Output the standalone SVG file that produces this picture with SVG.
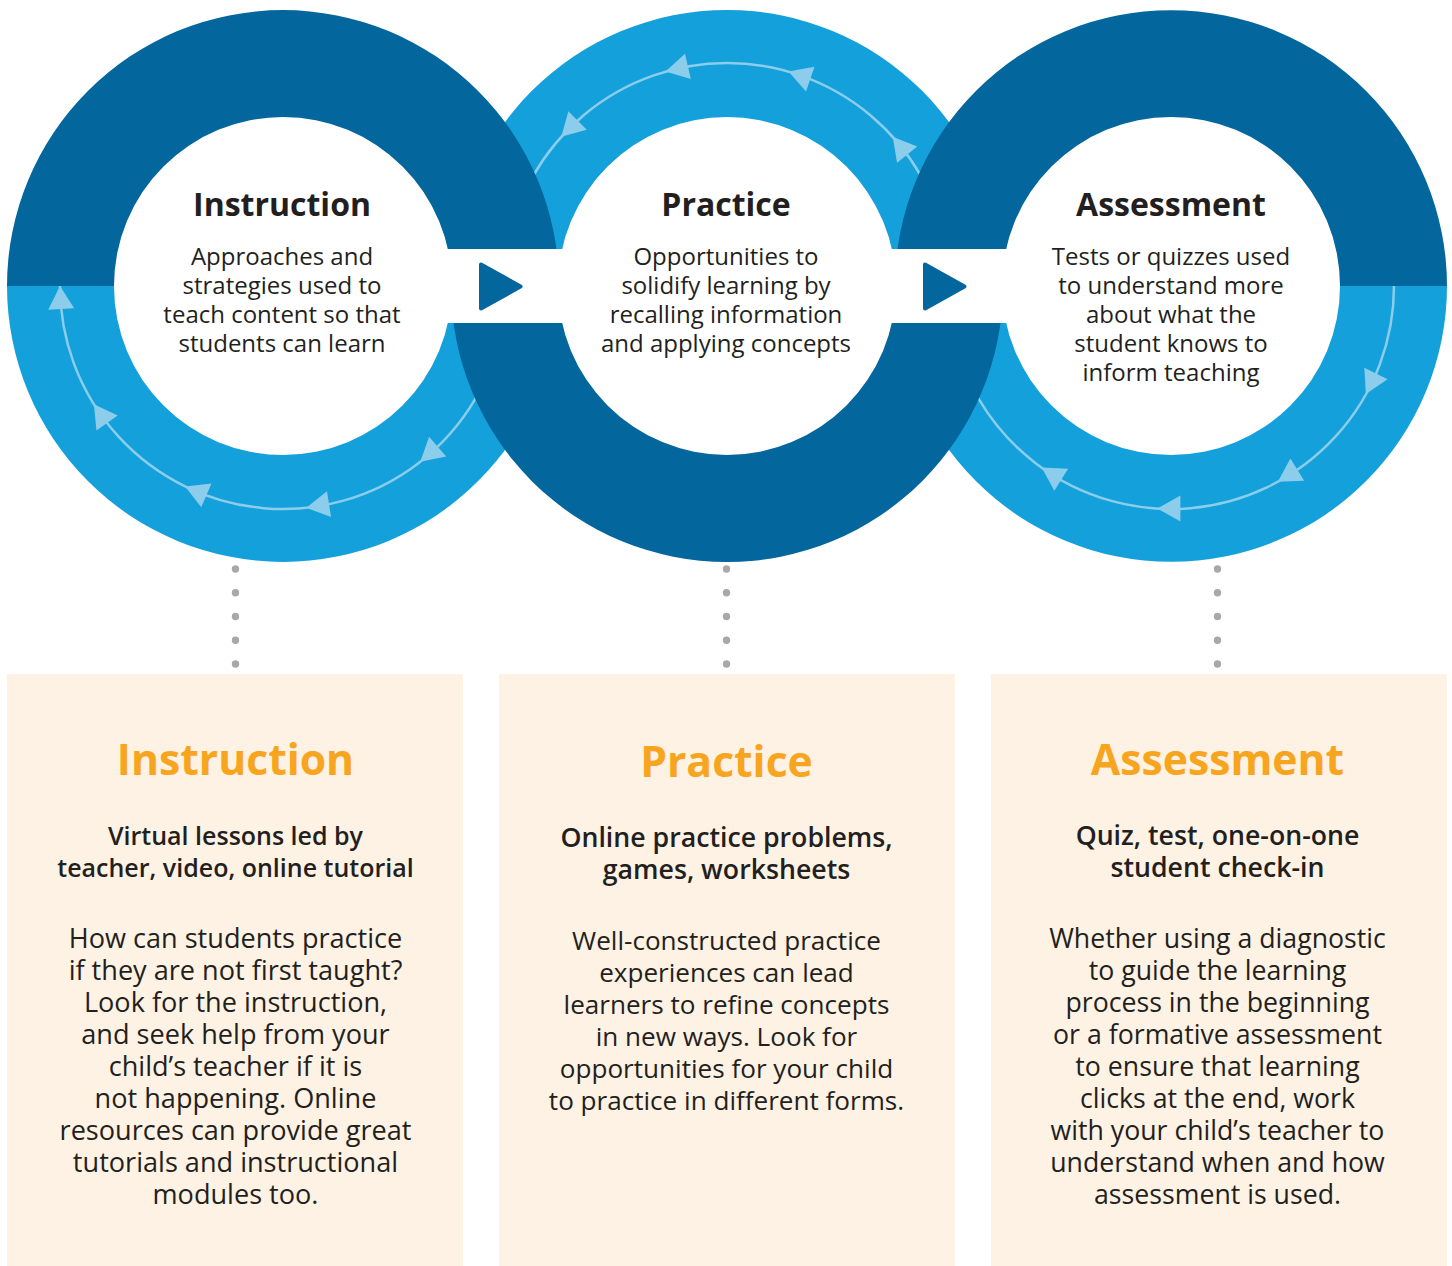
<svg xmlns="http://www.w3.org/2000/svg" xmlns:xlink="http://www.w3.org/1999/xlink" width="1452" height="1266" viewBox="0 0 1452 1266">
  <style>
    .dark { fill: #03679D; }
    .light { fill: #14A0DA; }
    .arc { fill: none; stroke: #8BCDEB; stroke-width: 2.5; }
    .ah { fill: #8BCDEB; }
    .tri { fill: #03679D; stroke: #03679D; stroke-width: 4; stroke-linejoin: round; }
    .dots { stroke: #A8A8AB; stroke-width: 7.4; stroke-linecap: round; stroke-dasharray: 0 23.75; fill: none; }
    .box { fill: #FDF2E3; }
    text { font-family: "Open Sans", "Liberation Sans", sans-serif; text-anchor: middle; fill: #231F20; }
    .ct { font-size: 32px; font-weight: 700; }
    .cb { font-size: 24px; }
    .bt { font-size: 42.7px; font-weight: 700; fill: #F7A51E; }
    .bs { font-size: 26.7px; font-weight: 600; }
    .bs1 { font-size: 25px; }
    .bb { font-size: 26.7px; }
    .bb1 { font-size: 27.1px; }
    .bb2 { font-size: 26.1px; }
  </style>
  <defs>
    <polygon id="ah" class="ah" points="0,0 -23,-13 -23,13"/>
  </defs>

  <g id="rings">
    <!-- light halves -->
    <path id="ring-instruction-light" class="light" d="M559,286 A276,276 0 0 1 7,286 L114,286 A169,169 0 0 0 452,286 Z"/>
    <path id="ring-practice-light" class="light" d="M451,286 A276,276 0 0 1 1003,286 L896,286 A169,169 0 0 0 558,286 Z"/>
    <path id="ring-assessment-light" class="light" d="M1447,286 A276,276 0 0 1 895,286 L1002,286 A169,169 0 0 0 1340,286 Z"/>
    <!-- cycle arrows -->
    <g id="cycle-arrows">
      <path class="arc" d="M502.61,324.72 A223,223 0 0 1 60,286"/>
      <use xlink:href="#ah" href="#ah" transform="translate(420.3,461.7) rotate(139)"/>
      <use xlink:href="#ah" href="#ah" transform="translate(306.3,507.8) rotate(171)"/>
      <use xlink:href="#ah" href="#ah" transform="translate(185.2,486.4) rotate(203)"/>
      <use xlink:href="#ah" href="#ah" transform="translate(93.9,404.2) rotate(235)"/>
      <use xlink:href="#ah" href="#ah" transform="translate(60,286) rotate(267)"/>

      <path class="arc" d="M946.61,247.28 A223,223 0 0 0 507.39,247.28"/>
      <use xlink:href="#ah" href="#ah" transform="translate(892.7,136.8) rotate(231)"/>
      <use xlink:href="#ah" href="#ah" transform="translate(788.5,71.6) rotate(199)"/>
      <use xlink:href="#ah" href="#ah" transform="translate(665.5,71.6) rotate(167)"/>
      <use xlink:href="#ah" href="#ah" transform="translate(561.3,136.8) rotate(135)"/>

      <path class="arc" d="M1394,286 A223,223 0 0 1 951.39,324.72"/>
      <use xlink:href="#ah" href="#ah" transform="translate(1365.9,394.1) rotate(116)"/>
      <use xlink:href="#ah" href="#ah" transform="translate(1277.8,481.8) rotate(148)"/>
      <use xlink:href="#ah" href="#ah" transform="translate(1157.4,508.6) rotate(180)"/>
      <use xlink:href="#ah" href="#ah" transform="translate(1041.7,467.6) rotate(212)"/>
    </g>
    <!-- dark halves -->
    <path id="ring-instruction-dark" class="dark" d="M7,286 A276,276 0 0 1 559,286 L452,286 A169,169 0 0 0 114,286 Z"/>
    <path id="ring-practice-dark" class="dark" d="M1003,286 A276,276 0 0 1 451,286 L558,286 A169,169 0 0 0 896,286 Z"/>
    <path id="ring-assessment-dark" class="dark" d="M895,286 A276,276 0 0 1 1447,286 L1340,286 A169,169 0 0 0 1002,286 Z"/>
    <!-- white band linking the circles -->
    <rect x="283" y="249" width="888" height="74" fill="#FFFFFF"/>
  </g>

  <g id="connectors">
    <polygon class="tri" points="481,264.5 481,308.5 520.5,286.5"/>
    <polygon class="tri" points="925,264.5 925,308.5 964.5,286.5"/>
    <line class="dots" x1="235.5" y1="569" x2="235.5" y2="665"/>
    <line class="dots" x1="726.5" y1="569" x2="726.5" y2="665"/>
    <line class="dots" x1="1217.5" y1="569" x2="1217.5" y2="665"/>
  </g>

  <g id="node-instruction">
    <text class="ct" x="282" y="216">Instruction</text>
    <text class="cb" x="282" y="265">Approaches and</text>
    <text class="cb" x="282" y="294">strategies used to</text>
    <text class="cb" x="282" y="323">teach content so that</text>
    <text class="cb" x="282" y="352">students can learn</text>
  </g>
  <g id="node-practice">
    <text class="ct" x="726" y="216">Practice</text>
    <text class="cb" x="726" y="265">Opportunities to</text>
    <text class="cb" x="726" y="294">solidify learning by</text>
    <text class="cb" x="726" y="323">recalling information</text>
    <text class="cb" x="726" y="352">and applying concepts</text>
  </g>
  <g id="node-assessment">
    <text class="ct" x="1171" y="216">Assessment</text>
    <text class="cb" x="1171" y="265">Tests or quizzes used</text>
    <text class="cb" x="1171" y="294">to understand more</text>
    <text class="cb" x="1171" y="323">about what the</text>
    <text class="cb" x="1171" y="352">student knows to</text>
    <text class="cb" x="1171" y="381">inform teaching</text>
  </g>

  <g id="box-instruction">
    <rect class="box" x="7" y="674" width="456" height="592"/>
    <text class="bt" x="235.5" y="775">Instruction</text>
    <text class="bs bs1" x="235.5" y="845">Virtual lessons led by</text>
    <text class="bs bs1" x="235.5" y="877">teacher, video, online tutorial</text>
    <text class="bb1" x="235.5" y="948">How can students practice</text>
    <text class="bb1" x="235.5" y="980">if they are not first taught?</text>
    <text class="bb1" x="235.5" y="1012">Look for the instruction,</text>
    <text class="bb1" x="235.5" y="1044">and seek help from your</text>
    <text class="bb1" x="235.5" y="1076">child’s teacher if it is</text>
    <text class="bb1" x="235.5" y="1108">not happening. Online</text>
    <text class="bb1" x="235.5" y="1140">resources can provide great</text>
    <text class="bb1" x="235.5" y="1172">tutorials and instructional</text>
    <text class="bb1" x="235.5" y="1204">modules too.</text>
  </g>
  <g id="box-practice">
    <rect class="box" x="499" y="674" width="456" height="592"/>
    <text class="bt" x="726.5" y="777">Practice</text>
    <text class="bs" x="726.5" y="847">Online practice problems,</text>
    <text class="bs" x="726.5" y="879">games, worksheets</text>
    <text class="bb2" x="726.5" y="950">Well-constructed practice</text>
    <text class="bb2" x="726.5" y="982">experiences can lead</text>
    <text class="bb2" x="726.5" y="1014">learners to refine concepts</text>
    <text class="bb2" x="726.5" y="1046">in new ways. Look for</text>
    <text class="bb2" x="726.5" y="1078">opportunities for your child</text>
    <text class="bb2" x="726.5" y="1110">to practice in different forms.</text>
  </g>
  <g id="box-assessment">
    <rect class="box" x="991" y="674" width="456" height="592"/>
    <text class="bt" x="1217.5" y="775">Assessment</text>
    <text class="bs" x="1217.5" y="845">Quiz, test, one-on-one</text>
    <text class="bs" x="1217.5" y="877">student check-in</text>
    <text class="bb" x="1217.5" y="948">Whether using a diagnostic</text>
    <text class="bb" x="1217.5" y="980">to guide the learning</text>
    <text class="bb" x="1217.5" y="1012">process in the beginning</text>
    <text class="bb" x="1217.5" y="1044">or a formative assessment</text>
    <text class="bb" x="1217.5" y="1076">to ensure that learning</text>
    <text class="bb" x="1217.5" y="1108">clicks at the end, work</text>
    <text class="bb" x="1217.5" y="1140">with your child’s teacher to</text>
    <text class="bb" x="1217.5" y="1172">understand when and how</text>
    <text class="bb" x="1217.5" y="1204">assessment is used.</text>
  </g>
</svg>
